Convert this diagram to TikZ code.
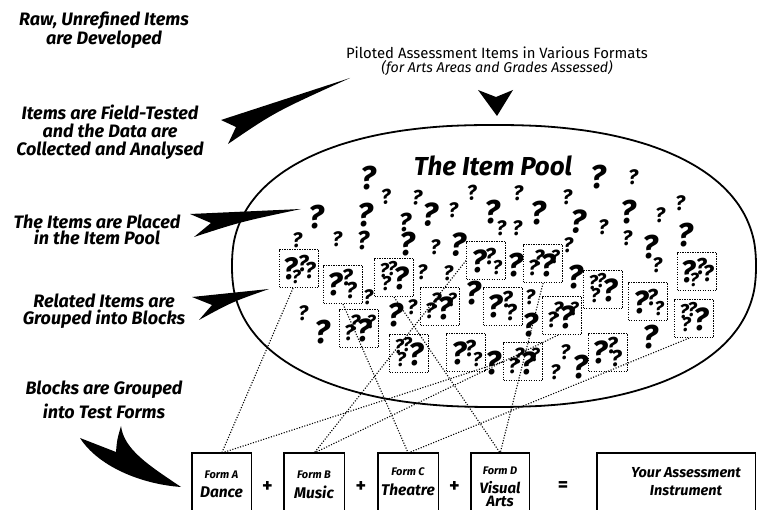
\documentclass[tikz,border=0pt]{standalone}
\usepackage{fontspec}
\setmainfont{Fira Sans}
\newcommand\qfnt[1]{\bfseries\itshape\fontsize{#1}{#1}\selectfont}
\newcommand\qboxfill[2]{%
  \ifcase#2
    \node[qm,font=\qfnt{31}] (#1-a) at ([shift={(11,20)}]#1.north west) {?};
    \node[qm,font=\qfnt{19}] (#1-b) at ([shift={(17,28)}]#1.north west) {?};
    \node[qm,font=\qfnt{23}] (#1-c) at ([shift={(24,15)}]#1.north west) {?};
    \node[qm,font=\qfnt{23}] (#1-d) at ([shift={(31,22)}]#1.north west) {?};
  \or
    \node[qm,font=\qfnt{32}] (#1-a) at ([shift={(12,19)}]#1.north west) {?};
    \node[qm,font=\qfnt{23}] (#1-b) at ([shift={(24,13)}]#1.north west) {?};
    \node[qm,font=\qfnt{23}] (#1-c) at ([shift={(28,26)}]#1.north west) {?};
  \or
    \node[qm,font=\qfnt{20}] (#1-a) at ([shift={(10,13)}]#1.north west) {?};
    \node[qm,font=\qfnt{20}] (#1-b) at ([shift={(18,11)}]#1.north west) {?};
    \node[qm,font=\qfnt{20}] (#1-c) at ([shift={(12,26)}]#1.north west) {?};
    \node[qm,font=\qfnt{32}] (#1-d) at ([shift={(27,20)}]#1.north west) {?};
  \or
    \node[qm,font=\qfnt{32}] (#1-a) at ([shift={(13,20)}]#1.north west) {?};
    \node[qm,font=\qfnt{23}] (#1-b) at ([shift={(24,16)}]#1.north west) {?};
    \node[qm,font=\qfnt{20}] (#1-c) at ([shift={(31,27)}]#1.north west) {?};
  \or
    \node[qm,font=\qfnt{22}] (#1-a) at ([shift={(10,24)}]#1.north west) {?};
    \node[qm,font=\qfnt{22}] (#1-b) at ([shift={(16,14)}]#1.north west) {?};
    \node[qm,font=\qfnt{32}] (#1-c) at ([shift={(25,21)}]#1.north west) {?};
    \node[qm,font=\qfnt{19}] (#1-d) at ([shift={(32,13)}]#1.north west) {?};
  \fi}
\begin{document}
\begin{tikzpicture}[x=1pt,y=-1pt,
  lab/.style={align=center, inner sep=0},
  qm/.style={inner sep=0},
  qbox/.style={draw, dash pattern=on 1.1pt off 1.4pt, line width=1.1pt,
    minimum width=39pt, minimum height=38pt, inner sep=0, anchor=north west},
  dl/.style={dash pattern=on 1.1pt off 1.6pt, line width=1.1pt},
  form/.style={minimum height=58pt, inner sep=0, anchor=north west},
  formline/.style={line width=1.5pt},
  ft1/.style={font=\bfseries\itshape\fontsize{11}{11}\selectfont, inner sep=0},
  ft2/.style={font=\bfseries\itshape\fontsize{15.5}{15.5}\selectfont, inner sep=0},
  op/.style={font=\bfseries\fontsize{20}{20}\selectfont, inner sep=0}
]
\useasboundingbox (0,0) rectangle (764,510);

% left labels
\node[lab, font=\bfseries\itshape\fontsize{18}{17}\selectfont] (l1) at (104,30) {Raw, Unrefined Items\\are Developed};
\node[lab, font=\bfseries\itshape\fontsize{18}{18}\selectfont] (l2) at (110,132) {Items are Field-Tested\\and the Data are\\Collected and Analysed};
\node[lab, font=\bfseries\itshape\fontsize{18}{16}\selectfont] (l3) at (97,230) {The Items are Placed\\in the Item Pool};
\node[lab, font=\bfseries\itshape\fontsize{18}{16.5}\selectfont] (l4) at (104,311) {Related Items are\\Grouped into Blocks};
\node[lab, font=\bfseries\itshape\fontsize{18}{24}\selectfont] (l5) at (104,400) {Blocks are Grouped\\into Test Forms};

% top texts
\node[inner sep=0, font=\fontsize{14.9}{14.9}\selectfont] (t1) at (497,53) {Piloted Assessment Items in Various Formats};
\node[inner sep=0, font=\itshape\fontsize{14.2}{14.2}\selectfont] (t2) at (497,68) {(for Arts Areas and Grades Assessed)};

% wedges
\fill (221,120) -- (236,127) -- (228,144) .. controls (275,112) .. (350,78) -- cycle;
\fill (190,214) -- (211,223) -- (194,237) .. controls (240,222) .. (301,209) -- cycle;
\fill (192,297) -- (212,305) -- (199,320) .. controls (232,302) .. (269,289) -- cycle;
\fill (80,438) -- (116,452) .. controls (117,440) .. (121,426)
   .. controls (124,450) and (150,466) .. (181,487)
   .. controls (140,484) and (98,466) .. (80,438) -- cycle;
\fill (478,90) -- (496,97) -- (513,90) -- (497,116) -- cycle;

% the pool
\draw[line width=1.8pt] plot[smooth cycle, variable=\t, domain=2.5:357.5, samples=72]
  ({494 + 262*sign(cos(\t))*pow(abs(cos(\t)),0.87)}, {266 + 141*sign(sin(\t))*pow(abs(sin(\t)),0.87)});
\node[inner sep=0, font=\bfseries\itshape\fontsize{26}{26}\selectfont] (pool) at (493,166) {The Item Pool};

% loose question marks
\foreach \x/\y/\s/\r [count=\i] in {
368/178/33/0, 386/197/21/5, 417/198/21/-5, 316/217/33/0, 365/215/33/0,
405/222/26/0, 430/215/33/-4, 453/210/21/0, 472/193/21/5, 492/212/33/0,
501/228/21/0, 297/240/21/0, 337/239/21/0, 363/240/26/0, 407/244/33/0,
435/247/21/0, 458/245/33/-4, 422/272/21/0, 448/273/21/0, 473/293/33/0,
368/297/21/0, 412/307/21/0, 395/315/33/0, 303/313/21/0, 322/332/33/0,
598/177/33/0, 633/177/21/0, 518/193/21/0, 567/197/21/0, 517/228/21/0,
538/213/33/0, 578/222/33/-4, 603/227/21/0, 628/212/33/0, 660/215/21/0,
680/203/21/0, 627/238/21/0, 650/247/33/0, 685/235/33/0, 568/245/21/0,
515/265/33/0, 575/277/33/0, 657/265/21/0, 530/297/21/0, 530/325/33/0,
650/337/33/0, 565/352/21/0, 555/372/21/0, 580/367/33/0, 493/363/33/0}
  \node[qm, font=\qfnt{\s}, rotate=\r] (q\i) at (\x,\y) {?};

% blocks
\foreach \n/\x/\y/\v in {b1/279/249/0, b2/323/265/1, b3/374/258/2, b4/466/241/3,
  b5/420/287/4, b6/339/309/4, b7/389/334/2, b8/446/333/3, b9/503/342/4,
  b10/483/287/1, b11/523/244/4, b12/583/270/2, b13/542/296/4, b14/628/282/3,
  b15/677/252/0, b16/674/299/2, b17/588/333/1}
{
  \node[qbox] (\n) at (\x,\y) {};
  \qboxfill{\n}{\v}
}

% forms
\node[form, minimum width=59pt] (fa) at (192,453) {};
\node[form, minimum width=60pt] (fb) at (284,453) {};
\node[form, minimum width=60pt] (fc) at (378,453) {};
\node[form, minimum width=58pt] (fd) at (471,453) {};
\node[form, minimum width=158pt] (fe) at (597,453) {};
\foreach \f in {fa,fb,fc,fd,fe}
  \draw[formline] (\f.south west) -- (\f.north west) -- (\f.north east) -- (\f.south east);

\node[ft1] (fa1) at (221.5,475) {Form A};
\node[ft2] (fa2) at (221.5,492) {Dance};
\node[ft1] (fb1) at (314,475) {Form B};
\node[ft2] (fb2) at (314,492) {Music};
\node[ft1] (fc1) at (408,472) {Form C};
\node[ft2] (fc2) at (408,490) {Theatre};
\node[ft1] (fd1) at (500,471) {Form D};
\node[ft2, font=\bfseries\itshape\fontsize{15}{15}\selectfont] (fd2) at (500,488) {Visual};
\node[ft2, font=\bfseries\itshape\fontsize{15}{15}\selectfont] (fd3) at (500,501) {Arts};
\node[ft2, font=\bfseries\itshape\fontsize{14.5}{14.5}\selectfont] (fe1) at (686,473) {Your Assessment};
\node[ft2, font=\bfseries\itshape\fontsize{14.5}{14.5}\selectfont] (fe2) at (686,491) {Instrument};

\node[op] (p1) at (267.5,487) {+};
\node[op] (p2) at (361,487) {+};
\node[op] (p3) at (454.5,487) {+};
\node[op] (eq) at (563,487) {=};

% connectors
\draw[dl] ([xshift=-6pt]b1.south) -- (fa.north);
\draw[dl] (b9.west) -- (fa.north);
\draw[dl] (b4.west) -- (fb.north);
\draw[dl] ([xshift=-4pt]b13.south) -- (fb.north);
\draw[dl] (b2.south) -- (fc.north);
\draw[dl] ([xshift=-5pt]b16.south) -- (fc.north);
\draw[dl] (b3.south) -- (fd.north);
\draw[dl] (b11.south) -- (fd.north);
\end{tikzpicture}
\end{document}
